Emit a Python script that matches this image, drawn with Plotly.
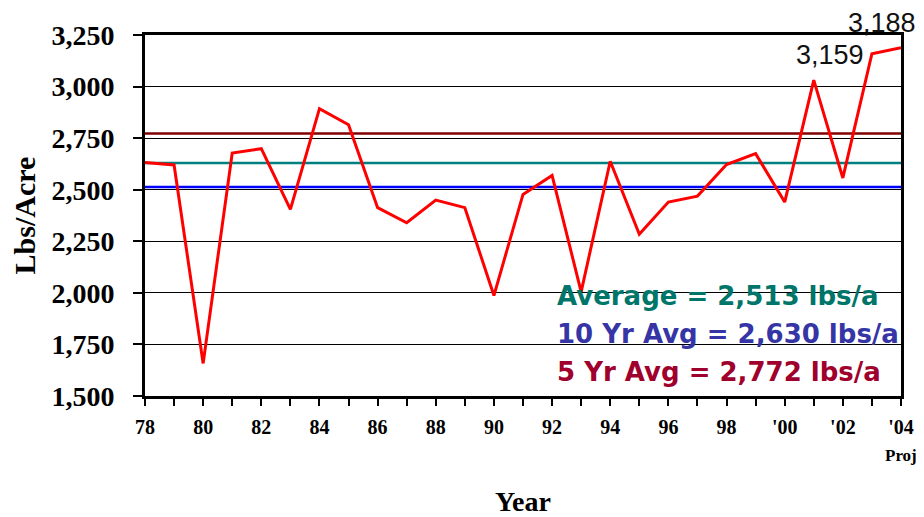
import plotly.graph_objects as go

years = list(range(1978, 2005))
yields = [2632, 2620, 1658, 2678, 2699, 2405, 2893, 2815, 2413, 2340, 2450, 2413, 1987,
          2477, 2569, 2005, 2638, 2284, 2440, 2469, 2622, 2675, 2440, 3031, 2557, 3159, 3188]
tick_years = list(range(1978, 2005))
tick_labels = ["78", "", "80", "", "82", "", "84", "", "86", "", "88", "", "90", "", "92", "",
               "94", "", "96", "", "98", "", "'00", "", "'02", "", "'04"]
y_ticks = [1500, 1750, 2000, 2250, 2500, 2750, 3000, 3250]
avg_names = ["5 Yr Avg", "10 Yr Avg", "Average"]
avg_line_values = [2772, 2630, 2513]
avg_line_colors = ["#800000", "#008080", "#0000FF"]
legend_texts = ["Average = 2,513 lbs/a", "10 Yr Avg = 2,630 lbs/a", "5 Yr Avg = 2,772 lbs/a"]
legend_colors = ["#00756A", "#3535A5", "#A0002C"]
legend_y = [1983, 1803, 1615]

fig = go.Figure()
for name, val, col in zip(avg_names, avg_line_values, avg_line_colors):
    fig.add_trace(go.Scatter(x=[years[0], years[-1]], y=[val, val], mode="lines",
                             line=dict(color=col, width=2.5), name=name, hoverinfo="skip"))
fig.add_trace(go.Scatter(x=years, y=yields, mode="lines", line=dict(color="#FF0000", width=3),
                         name="Yield", cliponaxis=False))

for t, c, yv in zip(legend_texts, legend_colors, legend_y):
    fig.add_annotation(x=1992.1, y=yv, xref="x", yref="y", text=t, showarrow=False,
                       xanchor="left", yanchor="middle",
                       font=dict(family="DejaVu Sans", size=26, color=c, weight="bold"))

fig.add_annotation(x=years[-2], y=yields[-2], text=f"{yields[-2]:,}", showarrow=False,
                   xanchor="right", yanchor="middle", xshift=-6, yshift=-1,
                   font=dict(family="Liberation Sans", size=27, color="#111111"))
fig.add_annotation(x=years[-1], y=yields[-1], text=f"{yields[-1]:,}", showarrow=False,
                   xanchor="center", yanchor="middle", xshift=-19, yshift=25,
                   font=dict(family="Liberation Sans", size=27, color="#111111"))
fig.add_annotation(x=years[-1], y=0, xref="x", yref="paper", text="Proj", showarrow=False,
                   xanchor="center", yanchor="top", yshift=-48,
                   font=dict(family="Liberation Serif", size=17, color="black", weight="bold"))

fig.update_layout(
    width=924, height=517,
    margin=dict(l=134, r=31, t=25, b=129),
    paper_bgcolor="white", plot_bgcolor="white",
    showlegend=False,
    xaxis=dict(range=[1978, 2004], tickvals=tick_years, ticktext=tick_labels,
               ticks="outside", ticklen=7, tickwidth=2, tickcolor="black",
               ticklabelstandoff=4,
               showgrid=False, zeroline=False,
               showline=True, linecolor="black", linewidth=3, mirror=True,
               tickfont=dict(family="Liberation Serif", size=20, color="black", weight="bold"),
               title=dict(text="Year", standoff=55,
                          font=dict(family="Liberation Serif", size=28, color="black", weight="bold"))),
    yaxis=dict(range=[1500, 3250], tickvals=y_ticks, tickformat=",d",
               ticks="outside", ticklen=9, tickwidth=2, tickcolor="black",
               ticklabelstandoff=13,
               showgrid=True, gridcolor="black", gridwidth=1, zeroline=False,
               showline=True, linecolor="black", linewidth=3, mirror=True,
               tickfont=dict(family="Liberation Serif", size=28, color="black", weight="bold"),
               title=dict(text="Lbs/Acre", standoff=10,
                          font=dict(family="Liberation Serif", size=30, color="black", weight="bold"))),
)
fig.write_html("out.html")
